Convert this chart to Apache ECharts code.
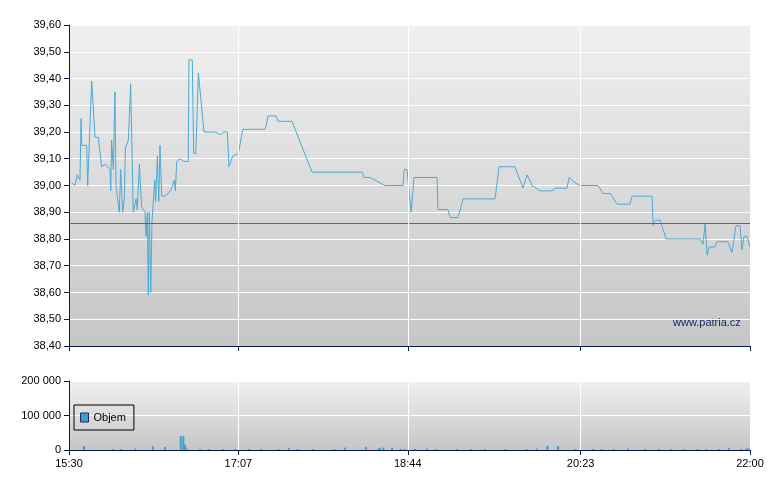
<!DOCTYPE html>
<html><head><meta charset="utf-8">
<script src="https://cdn.jsdelivr.net/npm/echarts@6/dist/echarts.min.js"></script>
<style>html,body{margin:0;padding:0;background:#fff}#c{width:780px;height:490px}</style>
</head><body><div id="c"></div>
<script>
const xTickMinutes = [0, 97, 194, 293, 390];
const xTickLabels = ['15:30', '17:07', '18:44', '20:23', '22:00'];
const priceT = [1.5,3.4,4.8,6.3,6.9,7.3,10.1,10.7,11.6,13.0,14.9,16.8,18.7,20.6,23.5,23.9,24.4,25.4,26.3,26.9,28.8,29.6,30.7,31.7,32.3,34.0,35.3,36.3,36.8,38.4,39.1,40.3,41.6,43.5,44.1,44.9,45.4,46.0,46.8,47.5,49.1,49.6,50.6,51.4,52.1,53.1,54.4,56.9,58.8,60.3,60.9,61.7,63.6,65.9,68.3,68.7,70.6,71.4,72.6,74.1,74.6,77.3,83.6,86.9,88.4,90.7,91.6,93.8,97.0,99.5,112.3,112.8,114.0,118.6,119.7,127.7,139.2,167.8,169.0,172.4,181.0,191.3,191.9,193.6,195.9,197.6,210.8,211.3,217.1,218.2,222.8,225.7,244.0,246.3,255.4,260.0,262.3,265.2,269.8,276.6,278.4,285.2,286.4,289.8,292.7,303.0,305.8,309.9,313.9,321.3,322.5,333.9,334.5,335.7,338.5,342.0,361.4,363.1,364.3,365.4,366.6,370.0,371.1,377.4,379.7,380.8,382.0,384.3,385.4,386.6,388.3,390];
const priceV = [39.01,39.00,39.04,39.02,39.25,39.15,39.15,39.00,39.00,39.39,39.18,39.18,39.07,39.08,39.06,38.98,39.17,39.06,39.35,39.00,38.90,39.06,38.90,38.95,39.14,39.17,39.38,39.38,38.90,38.95,38.91,39.08,38.92,38.90,38.81,38.90,38.59,38.90,38.60,38.86,39.02,38.94,39.11,38.94,39.15,38.96,38.96,38.97,38.99,39.02,38.98,39.09,39.10,39.09,39.09,39.47,39.47,39.12,39.12,39.42,39.42,39.20,39.20,39.19,39.20,39.20,39.07,39.11,39.12,39.21,39.21,39.22,39.26,39.26,39.24,39.24,39.05,39.05,39.03,39.03,39.00,39.00,39.06,39.06,38.90,39.03,39.03,38.91,38.91,38.88,38.88,38.95,38.95,39.07,39.07,38.99,39.04,39.00,38.98,38.98,38.99,38.99,39.03,39.01,39.00,39.00,38.97,38.97,38.93,38.93,38.96,38.96,38.85,38.87,38.87,38.80,38.80,38.78,38.86,38.74,38.77,38.77,38.79,38.79,38.75,38.75,38.85,38.85,38.76,38.81,38.81,38.77];
const refPrice = 38.86;
const volT = [8.6,25,30,38,48,55,64,65.5,66.5,67.3,75,80,88,95,103,110,120,126,131,140,152,158,170,177,178,180,185,190,192,198,205,210,222,230,238,250,262,268,274,280,290,300,305,312,320,330,338,345,352,360,365,372,378,385,388,389];
const volV = [12000,3000,3000,4000,11000,9000,40000,40000,15000,4000,3000,3000,3000,2500,3000,3000,2500,5000,3000,3000,3000,7000,9000,3000,6000,7000,6000,3000,3000,3000,4000,3000,3000,3000,3000,3000,3000,4000,12000,12000,3000,3000,3000,3000,4000,3000,3000,3000,3000,3000,3000,3000,5000,3000,4000,5000];

const bg = {type:'linear',x:0,y:0,x2:0,y2:1,colorStops:[{offset:0,color:'#f0f0f0'},{offset:1,color:'#c6c6c6'}]};
const vLines = {silent:true,symbol:'none',label:{show:false},lineStyle:{color:'#fff',type:'solid',width:1},data:xTickMinutes.slice(1,4).map(v=>({xAxis:v}))};
const chart = echarts.init(document.getElementById('c'));
const axLine = {lineStyle:{color:'#0a1a4a',width:1}};
const font = {fontFamily:'Liberation Sans, Arial',fontSize:11,color:'#000'};
chart.setOption({
  animation:false,
  grid:[{left:69,right:30,top:25,height:321,show:true,backgroundColor:bg,borderWidth:0},
        {left:69,right:30,top:381,height:69,show:true,backgroundColor:bg,borderWidth:0}],
  xAxis:[{type:'value',gridIndex:0,min:0,max:390,axisLine:axLine,splitLine:{show:false},
          axisTick:{customValues:xTickMinutes,length:5,lineStyle:{color:'#0a1a4a'}},axisLabel:{show:false}},
         {type:'value',gridIndex:1,min:0,max:390,axisLine:axLine,splitLine:{show:false},
          axisTick:{customValues:xTickMinutes,length:5,lineStyle:{color:'#0a1a4a'}},
          axisLabel:{customValues:xTickMinutes,...font,margin:8,formatter:v=>xTickLabels[xTickMinutes.indexOf(v)]}}],
  yAxis:[{type:'value',gridIndex:0,min:38.4,max:39.6,interval:0.1,axisLine:{show:true,...axLine},
          axisTick:{show:true,length:5,lineStyle:{color:'#0a1a4a'}},splitLine:{lineStyle:{color:'#fff'}},
          axisLabel:{...font,formatter:v=>v.toFixed(2).replace('.',',')}},
         {type:'value',gridIndex:1,min:0,max:200000,interval:100000,axisLine:{show:true,...axLine},
          axisTick:{show:true,length:5,lineStyle:{color:'#0a1a4a'}},splitLine:{lineStyle:{color:'#fff'}},
          axisLabel:{...font,formatter:v=>v===0?'0':String(v).replace(/\B(?=(\d{3})+(?!\d))/g,' ')}}],
  legend:{show:true,left:74,top:405,orient:'vertical',data:[{name:'Objem',icon:'rect',itemStyle:{color:'#3d9fd3',borderColor:'#1a2a5a',borderWidth:1}}],itemWidth:8,itemHeight:9,
          backgroundColor:'rgba(0,0,0,0)',borderColor:'#000',borderWidth:1,padding:[7,8,7,6],itemGap:4,
          textStyle:{fontFamily:'Liberation Sans, Arial',fontSize:11,color:'#000'},borderRadius:0},
  graphic:[{type:'text',left:673,top:317,style:{text:'www.patria.cz',fill:'#1a2a6a',font:'11px Liberation Sans, Arial'}}],
  series:[
    {type:'line',xAxisIndex:0,yAxisIndex:0,data:[],silent:true,
     markLine:{silent:true,symbol:'none',label:{show:false},lineStyle:{color:'#e03030',type:'solid',width:1},data:[{yAxis:refPrice}]}},
    {type:'line',xAxisIndex:0,yAxisIndex:0,data:priceT.map((t,i)=>[t,priceV[i]]),showSymbol:false,
     lineStyle:{color:'#4aaad6',width:1},itemStyle:{color:'#4aaad6'},markLine:vLines},
    {type:'bar',name:'Objem',xAxisIndex:1,yAxisIndex:1,data:volT.map((t,i)=>[t,volV[i]]),barWidth:2,
     itemStyle:{color:'#3d9fd3'},markLine:vLines}
  ]
});
</script></body></html>
